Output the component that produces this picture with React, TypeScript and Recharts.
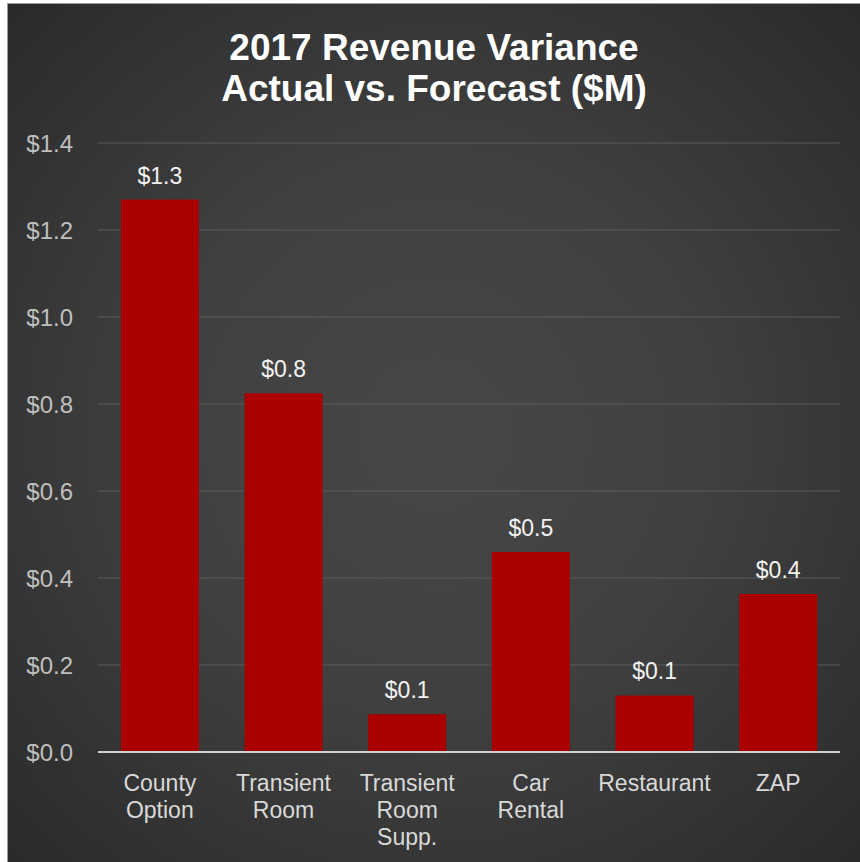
import { BarChart, Bar, XAxis, YAxis, CartesianGrid, LabelList } from 'recharts'

const categories = ['County Option', 'Transient Room', 'Transient Room Supp.', 'Car Rental', 'Restaurant', 'ZAP']
const variance = [1.27, 0.825, 0.087, 0.46, 0.13, 0.363]
const yTicks = [0, 0.2, 0.4, 0.6, 0.8, 1.0, 1.2, 1.4]
const titleLines = ['2017 Revenue Variance', 'Actual vs. Forecast ($M)']

const data = categories.map((name, i) => ({ name, value: variance[i] }))

const FONT = '"Liberation Sans", Arial, sans-serif'
const money = (v: number) => `$${Number(v).toFixed(1)}`

function CategoryTick({ x, y, payload }: any) {
  const words = String(payload.value).split(' ')
  return (
    <text x={x} y={y + 31} textAnchor="middle" fill="#d9d9d9" fontSize={23} fontFamily={FONT}>
      {words.map((w, i) => (
        <tspan key={i} x={x} dy={i === 0 ? 0 : 27}>
          {w}
        </tspan>
      ))}
    </text>
  )
}

export default function App() {
  return (
    <div
      style={{
        position: 'absolute',
        left: 7,
        top: 3,
        width: 852,
        height: 858,
        border: '1px solid #9a9a9a',
        background: 'radial-gradient(circle at 50% 50%, #474747 0%, #404040 45%, #2a2a2a 100%)',
        fontFamily: FONT,
      }}
    >
      <div
        style={{
          position: 'absolute',
          left: 0,
          right: 0,
          top: 23,
          textAlign: 'center',
          color: '#ffffff',
          fontWeight: 'bold',
          fontSize: 37,
          lineHeight: '41px',
        }}
      >
        {titleLines.map((t) => (
          <div key={t}>{t}</div>
        ))}
      </div>
      <BarChart
        width={852}
        height={858}
        data={data}
        margin={{ top: 139, right: 20, bottom: 0, left: 0 }}
        barCategoryGap="18.5%"
        style={{ position: 'absolute', left: 0, top: 0 }}
      >
        <CartesianGrid vertical={false} stroke="#5a5a5a" strokeWidth={1} />
        <XAxis
          dataKey="name"
          height={110}
          interval={0}
          tickLine={false}
          axisLine={{ stroke: '#d0d0d0', strokeWidth: 2 }}
          tick={<CategoryTick />}
        />
        <YAxis
          width={90}
          domain={[0, 1.4]}
          ticks={yTicks}
          tickFormatter={money}
          axisLine={false}
          tickLine={false}
          tickSize={0}
          tickMargin={25}
          tick={{ fill: '#bfbfbf', fontSize: 24, fontFamily: FONT }}
        />
        <Bar dataKey="value" fill="#aa0000" isAnimationActive={false}>
          <LabelList
            dataKey="value"
            position="top"
            offset={16}
            formatter={money}
            fill="#f2f2f2"
            fontSize={23}
            fontFamily={FONT}
          />
        </Bar>
      </BarChart>
    </div>
  )
}
